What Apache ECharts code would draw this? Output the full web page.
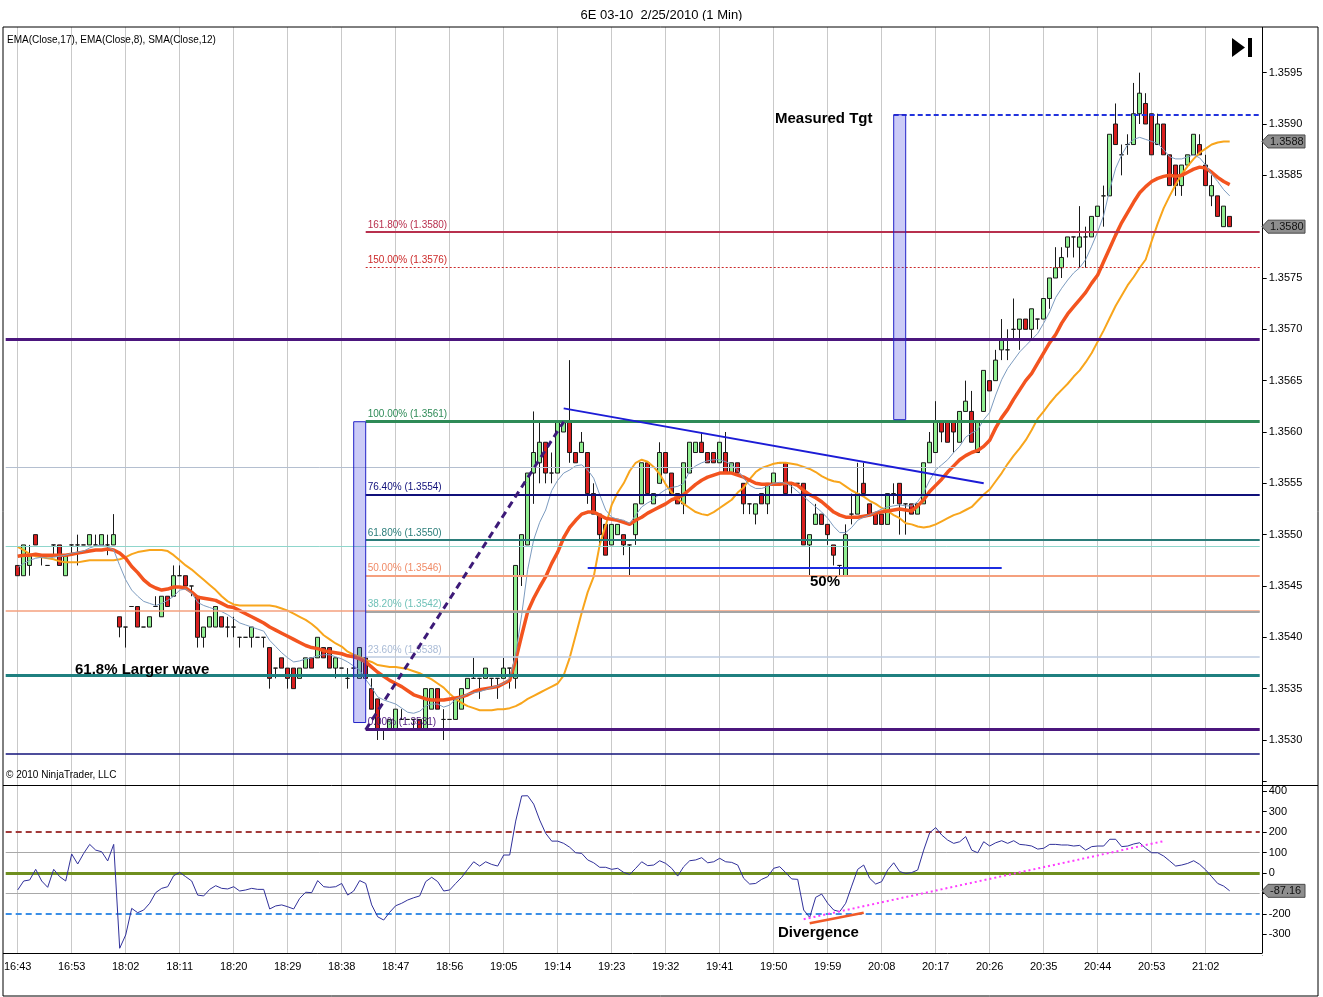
<!DOCTYPE html>
<html>
<head>
<meta charset="utf-8">
<title>6E 03-10 2/25/2010 (1 Min)</title>
<script src="https://cdn.jsdelivr.net/npm/echarts@6/dist/echarts.min.js"></script>
<style>
html,body{margin:0;padding:0;background:#fff;}
#chart{width:1323px;height:997px;}
</style>
</head>
<body>
<div id="chart"></div>
<script>
// ================= DATA =================
const tickLabels = ['16:43','16:53','18:02','18:11','18:20','18:29','18:38','18:47','18:56','19:05','19:14','19:23','19:32','19:41','19:50','19:59','20:08','20:17','20:26','20:35','20:44','20:53','21:02'];

const opens = [
1.3547,1.3546,1.3547,1.3550,1.3548,1.3547,1.3549,1.3549,1.3546,1.3549,
1.3549,1.3549,1.3549,1.3549,1.3549,1.3549,1.3549,1.3542,1.3541,1.3543,
1.3543,1.3541,1.3541,1.3543,1.3542,1.3544,1.3544,1.3546,1.3546,1.3545,
1.3544,1.3540,1.3541,1.3541,1.3542,1.3541,1.3541,1.3540,1.3540,1.3540,
1.3540,1.3540,1.3539,1.3537,1.3538,1.3537,1.3537,1.3536,1.3537,1.3538,
1.3538,1.3539,1.3539,1.3537,1.3537,1.3536,1.3537,1.3536,1.3538,1.3535,
1.3534,1.3531,1.3531,1.3531,1.3532,1.3532,1.3532,1.3532,1.3531,1.3533,
1.3535,1.3532,1.3532,1.3532,1.3533,1.3535,1.3536,1.3536,1.3536,1.3536,
1.3536,1.3536,1.3537,1.3536,1.3546,1.3549,1.3556,1.3557,1.3559,1.3556,
1.3556,1.3560,1.3561,1.3558,1.3558,1.3558,1.3554,1.3552,1.3551,1.3549,
1.3550,1.3550,1.3549,1.3550,1.3553,1.3557,1.3553,1.3555,1.3558,1.3556,
1.3554,1.3553,1.3556,1.3558,1.3559,1.3558,1.3558,1.3557,1.3558,1.3556,
1.3557,1.3555,1.3553,1.3552,1.3554,1.3553,1.3555,1.3557,1.3557,1.3555,
1.3555,1.3555,1.3549,1.3551,1.3552,1.3551,1.3549,1.3547,1.3546,1.3552,
1.3552,1.3555,1.3553,1.3552,1.3552,1.3551,1.3554,1.3555,1.3553,1.3553,
1.3552,1.3553,1.3557,1.3558,1.3561,1.3561,1.3561,1.3559,1.3562,1.3562,
1.3558,1.3562,1.3565,1.3565,1.3568,1.3568,1.3570,1.3570,1.3571,1.3570,
1.3571,1.3571,1.3573,1.3575,1.3576,1.3578,1.3579,1.3578,1.3579,1.3579,
1.3581,1.3583,1.3583,1.3590,1.3587,1.3588,1.3588,1.3591,1.3592,1.3591,
1.3588,1.3590,1.3587,1.3586,1.3584,1.3586,1.3587,1.3588,1.3586,1.3583,
1.3583,1.3580,1.3581];

const closes = [
1.3546,1.3549,1.3548,1.3549,1.3548,1.3547,1.3549,1.3547,1.3548,1.3549,
1.3549,1.3549,1.3550,1.3549,1.3550,1.3549,1.3550,1.3541,1.3541,1.3543,
1.3541,1.3541,1.3542,1.3543,1.3544,1.3543,1.3546,1.3546,1.3545,1.3545,
1.3540,1.3541,1.3542,1.3543,1.3541,1.3541,1.3541,1.3540,1.3540,1.3541,
1.3540,1.3540,1.3536,1.3537,1.3537,1.3536,1.3535,1.3537,1.3538,1.3537,
1.3540,1.3538,1.3537,1.3538,1.3537,1.3536,1.3537,1.3539,1.3536,1.3533,
1.3531,1.3531,1.3532,1.3533,1.3532,1.3532,1.3532,1.3531,1.3535,1.3535,
1.3533,1.3532,1.3532,1.3534,1.3535,1.3536,1.3536,1.3536,1.3537,1.3536,
1.3536,1.3537,1.3537,1.3547,1.3550,1.3556,1.3558,1.3559,1.3556,1.3556,
1.3561,1.3561,1.3558,1.3557,1.3559,1.3554,1.3552,1.3550,1.3548,1.3551,
1.3551,1.3549,1.3549,1.3553,1.3557,1.3554,1.3554,1.3558,1.3556,1.3554,
1.3553,1.3557,1.3559,1.3559,1.3558,1.3557,1.3557,1.3559,1.3556,1.3557,
1.3556,1.3553,1.3553,1.3553,1.3553,1.3555,1.3556,1.3557,1.3554,1.3555,
1.3555,1.3549,1.3550,1.3552,1.3551,1.3550,1.3548,1.3547,1.3550,1.3552,
1.3554,1.3554,1.3552,1.3551,1.3551,1.3554,1.3554,1.3553,1.3553,1.3552,
1.3553,1.3557,1.3559,1.3561,1.3560,1.3559,1.3560,1.3562,1.3563,1.3559,
1.3561,1.3566,1.3564,1.3567,1.3569,1.3568,1.3570,1.3571,1.3570,1.3572,
1.3571,1.3573,1.3575,1.3576,1.3577,1.3579,1.3579,1.3579,1.3579,1.3581,
1.3582,1.3583,1.3589,1.3588,1.3587,1.3588,1.3591,1.3593,1.3590,1.3587,
1.3590,1.3587,1.3584,1.3584,1.3586,1.3587,1.3589,1.3587,1.3584,1.3584,
1.3581,1.3582,1.3580];

const lows = [
1.3546,1.3546,1.3546,1.3549,1.3547,1.3547,1.3548,1.3547,1.3546,1.3548,
1.3547,1.3549,1.3549,1.3549,1.3549,1.3548,1.3549,1.3540,1.3539,1.3543,
1.3541,1.3541,1.3541,1.3543,1.3542,1.3543,1.3544,1.3546,1.3545,1.3544,
1.3539,1.3539,1.3541,1.3541,1.3541,1.3540,1.3540,1.3539,1.3540,1.3539,
1.3540,1.3539,1.3535,1.3536,1.3537,1.3535,1.3535,1.3536,1.3537,1.3537,
1.3538,1.3538,1.3537,1.3536,1.3537,1.3535,1.3536,1.3536,1.3536,1.3533,
1.3530,1.3530,1.3531,1.3531,1.3532,1.3532,1.3531,1.3531,1.3531,1.3533,
1.3533,1.3530,1.3532,1.3532,1.3533,1.3535,1.3536,1.3534,1.3536,1.3535,
1.3534,1.3536,1.3535,1.3535,1.3545,1.3549,1.3553,1.3555,1.3555,1.3555,
1.3556,1.3560,1.3557,1.3557,1.3558,1.3553,1.3552,1.3549,1.3548,1.3549,
1.3550,1.3548,1.3546,1.3549,1.3553,1.3554,1.3553,1.3555,1.3556,1.3554,
1.3553,1.3552,1.3556,1.3558,1.3558,1.3557,1.3557,1.3557,1.3556,1.3556,
1.3556,1.3552,1.3552,1.3551,1.3553,1.3552,1.3555,1.3557,1.3554,1.3554,
1.3555,1.3549,1.3546,1.3551,1.3551,1.3549,1.3547,1.3546,1.3546,1.3551,
1.3552,1.3554,1.3552,1.3551,1.3551,1.3551,1.3553,1.3550,1.3550,1.3552,
1.3552,1.3553,1.3557,1.3558,1.3559,1.3559,1.3558,1.3559,1.3562,1.3559,
1.3558,1.3562,1.3564,1.3565,1.3567,1.3567,1.3569,1.3568,1.3570,1.3569,
1.3570,1.3571,1.3572,1.3575,1.3575,1.3577,1.3577,1.3576,1.3576,1.3579,
1.3581,1.3580,1.3583,1.3588,1.3585,1.3587,1.3588,1.3590,1.3590,1.3587,
1.3588,1.3587,1.3584,1.3583,1.3583,1.3586,1.3587,1.3587,1.3584,1.3582,
1.3581,1.3580,1.3580];

const highs = [
1.3547,1.3549,1.3549,1.3550,1.3548,1.3547,1.3549,1.3549,1.3548,1.3549,
1.3550,1.3549,1.3550,1.3550,1.3550,1.3550,1.3552,1.3542,1.3541,1.3543,
1.3543,1.3541,1.3542,1.3544,1.3544,1.3544,1.3547,1.3547,1.3546,1.3545,
1.3544,1.3541,1.3542,1.3543,1.3542,1.3542,1.3542,1.3540,1.3540,1.3541,
1.3540,1.3540,1.3539,1.3537,1.3538,1.3537,1.3537,1.3537,1.3538,1.3538,
1.3540,1.3539,1.3539,1.3538,1.3537,1.3537,1.3538,1.3539,1.3538,1.3536,
1.3534,1.3531,1.3532,1.3533,1.3533,1.3532,1.3532,1.3532,1.3535,1.3535,
1.3535,1.3533,1.3532,1.3534,1.3535,1.3536,1.3538,1.3536,1.3537,1.3536,
1.3536,1.3538,1.3537,1.3547,1.3550,1.3556,1.3562,1.3561,1.3559,1.3558,
1.3561,1.3561,1.3567,1.3558,1.3560,1.3558,1.3555,1.3552,1.3551,1.3551,
1.3551,1.3550,1.3549,1.3553,1.3557,1.3557,1.3554,1.3559,1.3558,1.3556,
1.3554,1.3557,1.3559,1.3559,1.3560,1.3558,1.3558,1.3559,1.3560,1.3557,
1.3557,1.3555,1.3553,1.3553,1.3554,1.3555,1.3556,1.3557,1.3557,1.3555,
1.3555,1.3555,1.3550,1.3553,1.3552,1.3551,1.3549,1.3547,1.3551,1.3554,
1.3557,1.3557,1.3553,1.3552,1.3552,1.3554,1.3555,1.3555,1.3553,1.3553,
1.3553,1.3557,1.3560,1.3563,1.3561,1.3561,1.3561,1.3562,1.3565,1.3564,
1.3561,1.3566,1.3565,1.3568,1.3571,1.3570,1.3573,1.3571,1.3571,1.3572,
1.3571,1.3573,1.3575,1.3578,1.3578,1.3579,1.3579,1.3582,1.3580,1.3581,
1.3582,1.3584,1.3589,1.3592,1.3588,1.3589,1.3594,1.3595,1.3593,1.3591,
1.3591,1.3590,1.3587,1.3586,1.3586,1.3587,1.3589,1.3589,1.3587,1.3585,
1.3583,1.3582,1.3581];

// EMA(Close,17) - thick orange-red
const ema17 = [
1.35479,1.35480,1.35480,1.35481,1.35480,1.35480,1.35480,1.35480,1.35480,1.35481,
1.35482,1.35483,1.35484,1.35485,1.35485,1.35486,1.35485,1.35482,1.35477,1.35469,
1.35463,1.35456,1.35451,1.35448,1.35446,1.35447,1.35449,1.35449,1.35448,1.35444,
1.35439,1.35438,1.35437,1.35436,1.35433,1.35430,1.35429,1.35426,1.35423,1.35420,
1.35417,1.35414,1.35410,1.35407,1.35404,1.35401,1.35398,1.35395,1.35392,1.35390,
1.35389,1.35387,1.35386,1.35385,1.35384,1.35382,1.35381,1.35379,1.35376,1.35371,
1.35366,1.35362,1.35358,1.35355,1.35352,1.35348,1.35344,1.35342,1.35340,1.35339,
1.35339,1.35339,1.35340,1.35341,1.35342,1.35344,1.35347,1.35349,1.35350,1.35351,
1.35352,1.35355,1.35358,1.35378,1.35402,1.35425,1.35438,1.35449,1.35459,1.35472,
1.35483,1.35497,1.35507,1.35514,1.35520,1.35522,1.35522,1.35519,1.35516,1.35515,
1.35514,1.35512,1.35510,1.35514,1.35517,1.35521,1.35524,1.35527,1.35530,1.35534,
1.35536,1.35539,1.35544,1.35549,1.35553,1.35556,1.35558,1.35560,1.35560,1.35560,
1.35558,1.35556,1.35553,1.35550,1.35549,1.35549,1.35549,1.35549,1.35550,1.35550,
1.35548,1.35543,1.35539,1.35536,1.35532,1.35527,1.35522,1.35519,1.35517,1.35517,
1.35517,1.35518,1.35519,1.35521,1.35522,1.35523,1.35524,1.35525,1.35524,1.35523,
1.35528,1.35534,1.35542,1.35548,1.35554,1.35561,1.35567,1.35573,1.35577,1.35580,
1.35582,1.35586,1.35592,1.35604,1.35614,1.35622,1.35632,1.35641,1.35650,1.35657,
1.35667,1.35677,1.35687,1.35695,1.35706,1.35715,1.35722,1.35729,1.35736,1.35745,
1.35753,1.35766,1.35779,1.35792,1.35804,1.35814,1.35824,1.35833,1.35839,1.35844,
1.35847,1.35849,1.35850,1.35849,1.35850,1.35853,1.35856,1.35858,1.35857,1.35853,
1.35848,1.35844,1.35841];

// EMA(Close,8) - thin steel blue
const ema8 = [
1.35468,1.35472,1.35475,1.35477,1.35478,1.35477,1.35478,1.35479,1.35480,1.35482,
1.35483,1.35484,1.35487,1.35489,1.35490,1.35488,1.35485,1.35470,1.35456,1.35446,
1.35440,1.35435,1.35433,1.35431,1.35433,1.35436,1.35440,1.35446,1.35447,1.35443,
1.35434,1.35431,1.35429,1.35427,1.35425,1.35422,1.35418,1.35414,1.35412,1.35410,
1.35408,1.35406,1.35397,1.35391,1.35385,1.35380,1.35376,1.35377,1.35379,1.35380,
1.35382,1.35383,1.35383,1.35381,1.35379,1.35376,1.35372,1.35368,1.35359,1.35351,
1.35342,1.35339,1.35337,1.35335,1.35331,1.35327,1.35326,1.35328,1.35333,1.35335,
1.35335,1.35332,1.35334,1.35340,1.35342,1.35345,1.35346,1.35347,1.35349,1.35351,
1.35353,1.35355,1.35360,1.35383,1.35422,1.35466,1.35495,1.35512,1.35524,1.35543,
1.35553,1.35560,1.35563,1.35567,1.35568,1.35563,1.35555,1.35539,1.35524,1.35517,
1.35515,1.35514,1.35511,1.35519,1.35527,1.35531,1.35534,1.35540,1.35544,1.35546,
1.35547,1.35550,1.35562,1.35567,1.35570,1.35572,1.35573,1.35573,1.35571,1.35568,
1.35563,1.35555,1.35548,1.35545,1.35545,1.35547,1.35550,1.35551,1.35550,1.35547,
1.35542,1.35537,1.35532,1.35527,1.35522,1.35516,1.35508,1.35502,1.35502,1.35507,
1.35514,1.35517,1.35519,1.35522,1.35525,1.35527,1.35528,1.35529,1.35528,1.35528,
1.35532,1.35541,1.35553,1.35563,1.35568,1.35573,1.35580,1.35586,1.35595,1.35599,
1.35602,1.35612,1.35619,1.35636,1.35651,1.35662,1.35670,1.35678,1.35684,1.35690,
1.35696,1.35706,1.35717,1.35731,1.35740,1.35748,1.35755,1.35760,1.35768,1.35781,
1.35795,1.35811,1.35836,1.35857,1.35870,1.35880,1.35885,1.35887,1.35885,1.35883,
1.35881,1.35875,1.35868,1.35866,1.35866,1.35868,1.35870,1.35867,1.35860,1.35851,
1.35844,1.35836,1.35830];

// SMA(Close,12) - orange
const sma12 = [
1.35488,1.35485,1.35481,1.35479,1.35478,1.35477,1.35476,1.35474,1.35473,1.35473,
1.35473,1.35474,1.35475,1.35475,1.35475,1.35475,1.35475,1.35476,1.35478,1.35481,
1.35483,1.35484,1.35485,1.35485,1.35485,1.35484,1.35480,1.35475,1.35470,1.35466,
1.35461,1.35456,1.35451,1.35446,1.35440,1.35435,1.35432,1.35431,1.35431,1.35431,
1.35431,1.35431,1.35431,1.35430,1.35428,1.35426,1.35423,1.35420,1.35417,1.35413,
1.35408,1.35402,1.35398,1.35394,1.35391,1.35386,1.35383,1.35381,1.35378,1.35376,
1.35373,1.35372,1.35371,1.35371,1.35370,1.35369,1.35367,1.35365,1.35362,1.35359,
1.35355,1.35351,1.35345,1.35340,1.35336,1.35333,1.35331,1.35329,1.35329,1.35329,
1.35330,1.35330,1.35331,1.35333,1.35336,1.35340,1.35343,1.35346,1.35349,1.35352,
1.35355,1.35363,1.35380,1.35402,1.35424,1.35444,1.35459,1.35490,1.35509,1.35529,
1.35541,1.35550,1.35562,1.35570,1.35573,1.35571,1.35566,1.35559,1.35549,1.35541,
1.35535,1.35530,1.35526,1.35522,1.35520,1.35519,1.35522,1.35526,1.35530,1.35534,
1.35541,1.35546,1.35554,1.35561,1.35565,1.35567,1.35569,1.35570,1.35570,1.35569,
1.35568,1.35566,1.35564,1.35561,1.35557,1.35554,1.35552,1.35551,1.35547,1.35543,
1.35540,1.35537,1.35533,1.35530,1.35526,1.35523,1.35519,1.35516,1.35511,1.35510,
1.35508,1.35507,1.35508,1.35510,1.35513,1.35516,1.35519,1.35521,1.35524,1.35527,
1.35533,1.35539,1.35544,1.35552,1.35560,1.35569,1.35577,1.35584,1.35592,1.35602,
1.35613,1.35620,1.35628,1.35635,1.35641,1.35647,1.35654,1.35660,1.35668,1.35677,
1.35688,1.35699,1.35711,1.35723,1.35733,1.35743,1.35751,1.35760,1.35768,1.35786,
1.35803,1.35818,1.35830,1.35841,1.35851,1.35859,1.35866,1.35872,1.35876,1.35880,
1.35882,1.35883,1.35883];

// lower panel oscillator
const osc = [
-83,-39,-34,18,-39,-70,18,-18,-39,93,
44,96,140,112,104,59,140,-368,-303,-173,
-194,-181,-148,-96,-75,-67,-13,3,-18,-39,
-108,-112,-80,-62,-75,-78,-67,-88,-83,-75,
-80,-80,-176,-161,-156,-165,-176,-124,-94,-96,
-37,-67,-70,-67,-51,-108,-88,-37,-51,-156,
-214,-230,-192,-160,-148,-132,-121,-112,-42,-21,
-42,-88,-83,-51,-21,18,55,34,55,42,
34,88,88,254,377,378,337,259,194,156,
156,145,126,99,96,64,50,28,28,18,
23,3,-7,23,55,36,39,60,47,23,
-15,31,60,64,75,50,55,72,55,52,
39,-26,-54,-51,-31,-18,23,31,2,-29,
-31,-181,-217,-119,-103,-148,-181,-189,-148,-64,
18,39,-26,-54,-42,15,50,7,-2,2,
15,112,197,222,186,161,145,153,178,112,
99,153,132,148,158,145,158,140,137,132,
117,121,140,140,137,137,132,135,112,129,
132,132,165,165,129,132,142,148,121,99,
99,83,59,34,39,47,60,42,15,-18,
-51,-64,-87.16];

const priceGridLines = [1.3530, 1.3545, 1.3560, 1.3575, 1.3590];
const fibNames  = ['161.80% (1.3580)','150.00% (1.3576)','100.00% (1.3561)','76.40% (1.3554)','61.80% (1.3550)','50.00% (1.3546)','38.20% (1.3542)','23.60% (1.3538)','0.00% (1.3531)'];
const fibPrices = [1.35795, 1.35760, 1.35610, 1.35539, 1.35495, 1.35460, 1.35425, 1.35381, 1.35310];
const levelPrices = [1.35690, 1.35566, 1.35489, 1.35426, 1.35363, 1.35287];
const measuredTarget = 1.35909;
const oscLevels = [200, 100, 0, -100, -200];

// ================= BUILD =================
const FONT = 'Liberation Sans, Arial, Helvetica, sans-serif';
const NB = opens.length, PADL = 2, PADR = 5, NC = NB + PADL + PADR;
function timeOf(b) {
  const k = Math.min(Math.floor(b / 9), tickLabels.length - 1);
  let [h, m] = tickLabels[k].split(':').map(Number);
  m += b - 9 * k; h += Math.floor(m / 60); m = m % 60;
  return String(h).padStart(2, '0') + ':' + String(m).padStart(2, '0');
}
const cats = [];
for (let j = 0; j < NC; j++) { const b = j - PADL; cats.push(b >= 0 && b < NB ? timeOf(b) : ('p' + j)); }
const isTick = (idx) => idx >= PADL && (idx - PADL) % 9 === 0 && (idx - PADL) / 9 < tickLabels.length;
const C = (bar) => bar + PADL;        // bar index -> category index
const LAST = NC - 1;

const candleRows = opens.map((o, i) => [C(i), o, closes[i], lows[i], highs[i]]);
const lineData = (arr) => arr.map((v, i) => [C(i), v]);

// frame limits (in data units)
const MAIN_TOP = 1.359945, MAIN_BOT = 1.352561;
const OSC_TOP = 430, OSC_BOT = -391;

const vGridMain = tickLabels.map((_, k) => [{coord: [C(9 * k), MAIN_BOT]}, {coord: [C(9 * k), MAIN_TOP]}]);
const hGridMain = priceGridLines.map(p => ({yAxis: p}));
const vGridOsc = tickLabels.map((_, k) => [{coord: [C(9 * k), OSC_BOT]}, {coord: [C(9 * k), OSC_TOP]}]);

const levelStyles = [
  {color: '#4b167d', width: 3, type: 'solid'},
  {color: '#b4bfd0', width: 1, type: 'solid'},
  {color: '#8fd6cc', width: 1, type: 'solid'},
  {color: '#f5a07e', width: 1.5, type: 'solid'},
  {color: '#1f8080', width: 3, type: 'solid'},
  {color: '#12127a', width: 1.5, type: 'solid'}
];
const fibStyles = [
  {color: '#b8304e', width: 2, type: 'solid'},
  {color: '#cc2a2a', width: 1, type: [2, 2]},
  {color: '#2e8b57', width: 3, type: 'solid'},
  {color: '#10107a', width: 2, type: 'solid'},
  {color: '#2b7d7a', width: 2, type: 'solid'},
  {color: '#f5a07e', width: 2, type: 'solid'},
  {color: '#a5a5a5', width: 2, type: 'solid'},
  {color: '#bccbe0', width: 1.5, type: 'solid'},
  {color: '#4b167d', width: 3, type: 'solid'}
];
const fibLabelColors = ['#b8304e', '#cc2a2a', '#2e8b57', '#10107a', '#2b7d7a', '#f08a66', '#6fc1b8', '#a9bbd6', '#4b167d'];
const FIB_START_BAR = 58;

const levelLines = levelPrices.map((p, k) => [
  {coord: [0, p], lineStyle: levelStyles[k]}, {coord: [LAST, p]}
]);
const fibLines = fibPrices.map((p, k) => [
  {coord: [C(FIB_START_BAR), p], lineStyle: fibStyles[k],
   label: {show: true, position: 'insideStartTop', formatter: fibNames[k], color: fibLabelColors[k], fontSize: 10, fontFamily: FONT, distance: 2}},
  {coord: [LAST, p]}
]);
const targetLine = [
  {coord: [C(146), measuredTarget], lineStyle: {color: '#2233dd', width: 2, type: [5, 3]}}, {coord: [LAST, measuredTarget]}
];

const trendLines = [
  [{coord: [C(58), fibPrices[8]], lineStyle: {color: '#3d1a78', width: 3, type: [7, 5]}}, {coord: [C(91), fibPrices[2]]}],
  [{coord: [C(91), 1.35623], lineStyle: {color: '#1c1cd6', width: 2, type: 'solid'}}, {coord: [C(161), 1.35550]}],
  [{coord: [C(95), 1.35468], lineStyle: {color: '#1c2ce0', width: 2, type: 'solid'}}, {coord: [C(164), 1.35468]}]
];
const rects = [
  [{coord: [C(56), fibPrices[2]]}, {coord: [C(58), 1.35317]}],
  [{coord: [C(146), measuredTarget]}, {coord: [C(148), 1.35612]}]
];

const oscStyles = {
  '200': {color: '#a23a3a', width: 2, type: [6, 4]},
  '100': {color: '#a8a8a8', width: 1, type: 'solid'},
  '0': {color: '#6f8f1f', width: 3, type: 'solid'},
  '-100': {color: '#a8a8a8', width: 1, type: 'solid'},
  '-200': {color: '#3a8ee6', width: 2, type: [6, 4]}
};
const oscLines = oscLevels.map(v => [{coord: [0, v], lineStyle: oscStyles[String(v)]}, {coord: [LAST, v]}]);
const oscTrend = [
  [{coord: [C(131), -226], lineStyle: {color: '#ff3cff', width: 2, type: [2, 3]}}, {coord: [C(191), 156]}],
  [{coord: [C(132), -246], lineStyle: {color: '#f05a28', width: 2.5, type: 'solid'}}, {coord: [C(141), -194]}]
];

const baseML = {symbol: ['none', 'none'], silent: true, animation: false, label: {show: false}, emphasis: {disabled: true},
                lineStyle: {type: 'solid'}};

const option = {
  animation: false,
  backgroundColor: '#ffffff',
  textStyle: {fontFamily: FONT},
  title: {text: '6E 03-10  2/25/2010 (1 Min)', left: 'center', top: 4,
          textStyle: {fontSize: 13, fontWeight: 'normal', color: '#000', fontFamily: FONT}},
  grid: [
    {left: 2.7, width: 1260, top: 21.34, height: 769.96},
    {left: 2.7, width: 1260, top: 781.0, height: 173.8}
  ],
  xAxis: [
    {type: 'category', gridIndex: 0, data: cats, boundaryGap: true,
     axisLine: {show: false}, axisTick: {show: false}, axisLabel: {show: false}, splitLine: {show: false}},
    {type: 'category', gridIndex: 1, data: cats, boundaryGap: true,
     axisLine: {show: false},
     axisTick: {show: true, alignWithLabel: true, interval: (i) => isTick(i), length: 5, lineStyle: {color: '#000'}},
     axisLabel: {interval: (i) => isTick(i), formatter: (v, i) => tickLabels[(i - PADL) / 9] || '', fontSize: 11, color: '#000', margin: 7, fontFamily: FONT},
     splitLine: {show: false}}
  ],
  yAxis: [
    {type: 'value', gridIndex: 0, position: 'right', min: 1.3525, max: 1.3600, interval: 0.0005,
     axisLine: {show: false}, axisTick: {show: true, length: 4, lineStyle: {color: '#000'}},
     axisLabel: {formatter: v => (v < 1.35295 || v > 1.35955) ? '' : v.toFixed(4), fontSize: 11, color: '#000', margin: 6, fontFamily: FONT},
     splitLine: {show: false}},
    {type: 'value', gridIndex: 1, position: 'right', min: -400, max: 450, interval: 100,
     axisLine: {show: false}, axisTick: {show: true, length: 4, lineStyle: {color: '#000'}},
     axisLabel: {formatter: v => (v < -350 || v > 420) ? '' : String(v), fontSize: 11, color: '#000', margin: 6, fontFamily: FONT},
     splitLine: {show: false}}
  ],
  series: [
    // grid lines (main)
    {type: 'line', xAxisIndex: 0, yAxisIndex: 0, data: [], silent: true,
     markLine: Object.assign({}, baseML, {z: 1, lineStyle: {color: '#c9c9c9', width: 1, type: 'solid'}, data: vGridMain.concat(hGridMain)})},
    // candles
    {type: 'candlestick', name: '6E 03-10', xAxisIndex: 0, yAxisIndex: 0, z: 3, barWidth: 4,
     encode: {x: 0, y: [1, 2, 3, 4]}, data: candleRows, silent: true,
     itemStyle: {color: '#90ee90', color0: '#d81e1e', borderColor: '#1a1a1a', borderColor0: '#1a1a1a', borderColorDoji: '#1a1a1a', borderWidth: 1}},
    // moving averages
    {type: 'line', name: 'SMA(Close,12)', xAxisIndex: 0, yAxisIndex: 0, z: 4, data: lineData(sma12), showSymbol: false, silent: true,
     lineStyle: {color: '#f8a51c', width: 2}},
    {type: 'line', name: 'EMA(Close,17)', xAxisIndex: 0, yAxisIndex: 0, z: 4, data: lineData(ema17), showSymbol: false, silent: true,
     lineStyle: {color: '#f3541f', width: 3.5}},
    {type: 'line', name: 'EMA(Close,8)', xAxisIndex: 0, yAxisIndex: 0, z: 4, data: lineData(ema8), showSymbol: false, silent: true,
     lineStyle: {color: '#7d9cc0', width: 1}},
    // levels, fibs, rectangles
    {type: 'line', xAxisIndex: 0, yAxisIndex: 0, data: [], silent: true,
     markLine: Object.assign({}, baseML, {z: 5, data: levelLines.concat(fibLines, [targetLine])}),
     markArea: {silent: true, z: 6, itemStyle: {color: 'rgba(70,70,225,0.28)', borderColor: '#2323c8', borderWidth: 1}, label: {show: false}, data: rects}},
    // trend lines
    {type: 'line', xAxisIndex: 0, yAxisIndex: 0, data: [], silent: true,
     markLine: Object.assign({}, baseML, {z: 7, data: trendLines})},
    // oscillator grid & levels
    {type: 'line', xAxisIndex: 1, yAxisIndex: 1, data: [], silent: true,
     markLine: Object.assign({}, baseML, {z: 1, lineStyle: {color: '#c9c9c9', width: 1, type: 'solid'}, data: vGridOsc.concat(oscLines)})},
    {type: 'line', name: 'Oscillator', xAxisIndex: 1, yAxisIndex: 1, z: 4, data: lineData(osc), showSymbol: false, silent: true,
     lineStyle: {color: '#30309a', width: 1}},
    {type: 'line', xAxisIndex: 1, yAxisIndex: 1, data: [], silent: true,
     markLine: Object.assign({}, baseML, {z: 7, data: oscTrend})}
  ]
};

const chart = echarts.init(document.getElementById('chart'), null, {renderer: 'canvas'});
chart.setOption(option);

// ----- overlay: frames, texts, value callouts -----
function txt(x, y, text, font, color, align, z) {
  return {type: 'text', x: x, y: y, z: z || 150, silent: true,
          style: {text: text, font: font, fill: color || '#000', align: align || 'left', verticalAlign: 'middle',
                  textAlign: align || 'left', textVerticalAlign: 'middle'}};
}
function callout(y, label) {
  return [
    {type: 'polygon', z: 160, silent: true, shape: {points: [[1262, y], [1268, y - 6.5], [1305, y - 6.5], [1305, y + 6.5], [1268, y + 6.5]]},
     style: {fill: '#8e8e8e', stroke: '#4a4a4a', lineWidth: 1}},
    txt(1270, y + 0.5, label, '11px ' + FONT, '#111', 'left', 170)
  ];
}
const ySma = chart.convertToPixel({yAxisIndex: 0}, sma12[NB - 1]);
const yClose = chart.convertToPixel({yAxisIndex: 0}, closes[NB - 1]);
const yOsc = chart.convertToPixel({yAxisIndex: 1}, osc[NB - 1]);

const BOLD = 'bold 15px ' + FONT;
const elements = [
  // hide stray axis ticks / edge artefacts that fall outside the panel frames
  {type: 'rect', z: 130, silent: true, shape: {x: 0, y: 20.8, width: 1323, height: 5.7}, style: {fill: '#fff'}},
  {type: 'rect', z: 130, silent: true, shape: {x: 1263, y: 954.5, width: 10, height: 4}, style: {fill: '#fff'}},
  {type: 'rect', z: 140, silent: true, shape: {x: 3, y: 27, width: 1315, height: 969}, style: {fill: 'none', stroke: '#000', lineWidth: 1}},
  {type: 'line', z: 140, silent: true, shape: {x1: 1262.5, y1: 27, x2: 1262.5, y2: 953}, style: {stroke: '#000', lineWidth: 1}},
  {type: 'line', z: 140, silent: true, shape: {x1: 3, y1: 785.5, x2: 1318, y2: 785.5}, style: {stroke: '#000', lineWidth: 1}},
  {type: 'line', z: 140, silent: true, shape: {x1: 3, y1: 953.5, x2: 1262.5, y2: 953.5}, style: {stroke: '#000', lineWidth: 1}},
  txt(7, 40, 'EMA(Close,17), EMA(Close,8), SMA(Close,12)', '10px ' + FONT, '#000'),
  txt(6, 775, '\u00a9 2010 NinjaTrader, LLC', '10px ' + FONT, '#000'),
  txt(775, 119, 'Measured Tgt', BOLD, '#000'),
  txt(75, 670, '61.8% Larger wave', BOLD, '#000'),
  txt(810, 582, '50%', BOLD, '#000'),
  txt(778, 933, 'Divergence', BOLD, '#000'),
  {type: 'polygon', z: 150, silent: true, shape: {points: [[1232, 38], [1232, 57], [1245, 47.5]]}, style: {fill: '#000'}},
  {type: 'rect', z: 150, silent: true, shape: {x: 1248, y: 38, width: 4, height: 19}, style: {fill: '#000'}}
].concat(callout(ySma, sma12[NB - 1].toFixed(4)), callout(yClose, closes[NB - 1].toFixed(4)), callout(yOsc, osc[NB - 1].toFixed(2)));

chart.setOption({graphic: {elements: elements}});
</script>
</body>
</html>
